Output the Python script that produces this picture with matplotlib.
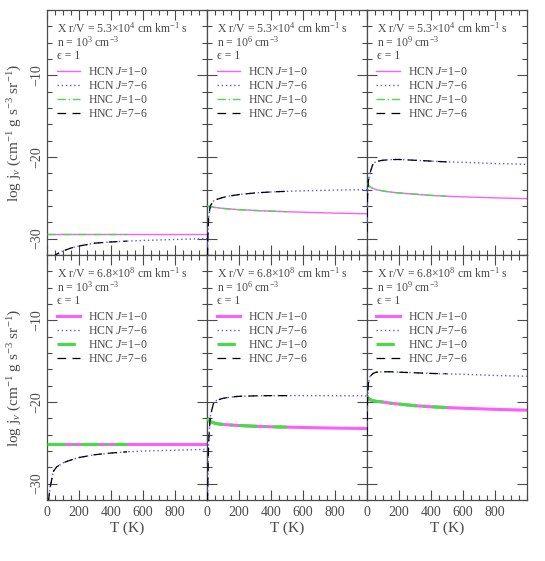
import matplotlib
matplotlib.use("Agg")
import matplotlib.pyplot as plt
from matplotlib.ticker import MultipleLocator

plt.rcParams['font.family'] = ['Liberation Serif', 'DejaVu Serif']
plt.rcParams['mathtext.fontset'] = 'custom'
plt.rcParams['mathtext.rm'] = 'Liberation Serif'
plt.rcParams['mathtext.it'] = 'Liberation Serif:italic'
plt.rcParams['axes.unicode_minus'] = True

GREY = '#4a4a4a'

# temperature grids (K)
T_hcn = [2, 5, 10, 20, 40, 60, 100, 150, 200, 300, 400, 500, 600, 800, 1000]
T_hnc = [2, 5, 10, 20, 40, 60, 100, 150, 200, 300, 400, 500]

# panel labels
xrv_labels = ['5.3×10$^{4}$', '5.3×10$^{4}$', '5.3×10$^{4}$',
              '6.8×10$^{8}$', '6.8×10$^{8}$', '6.8×10$^{8}$']
dens_labels = ['10$^{3}$', '10$^{6}$', '10$^{9}$',
               '10$^{3}$', '10$^{6}$', '10$^{9}$']

# log emissivity, one list per panel (top row then bottom row)
hcn10 = [
    [-29.4] * 15,
    [-26.0, -26.02, -26.05, -26.1, -26.15, -26.2, -26.3, -26.38, -26.45, -26.55, -26.63, -26.7, -26.76, -26.87, -26.95],
    [-23.2, -23.3, -23.45, -23.65, -23.85, -24.0, -24.15, -24.3, -24.4, -24.55, -24.7, -24.8, -24.88, -25.0, -25.1],
    [-25.2] * 15,
    [-22.0, -22.1, -22.2, -22.4, -22.55, -22.65, -22.75, -22.82, -22.88, -22.97, -23.03, -23.08, -23.12, -23.2, -23.25],
    [-19.3, -19.4, -19.55, -19.7, -19.85, -19.92, -20.0, -20.15, -20.25, -20.45, -20.58, -20.68, -20.76, -20.9, -21.0],
]
hcn76 = [
    [-36.0, -35.0, -34.0, -33.0, -32.2, -31.9, -31.5, -31.15, -30.9, -30.55, -30.4, -30.3, -30.22, -30.1, -30.0],
    [-34.0, -30.0, -27.5, -26.0, -25.4, -25.2, -24.95, -24.75, -24.6, -24.4, -24.28, -24.2, -24.14, -24.05, -24.0],
    [-29.2, -25.0, -23.0, -22.0, -20.8, -20.55, -20.4, -20.32, -20.3, -20.4, -20.5, -20.6, -20.65, -20.8, -20.9],
    [-34.0, -33.0, -32.0, -30.4, -28.5, -27.95, -27.45, -27.1, -26.8, -26.45, -26.25, -26.1, -26.0, -25.9, -25.8],
    [-34.0, -30.0, -25.0, -21.8, -20.2, -19.8, -19.55, -19.4, -19.3, -19.25, -19.22, -19.22, -19.22, -19.23, -19.25],
    [-24.1, -20.0, -17.8, -16.9, -16.5, -16.35, -16.3, -16.3, -16.35, -16.42, -16.5, -16.55, -16.6, -16.75, -16.85],
]
hnc10 = [
    [-29.4] * 12,
    [-26.0, -26.02, -26.05, -26.1, -26.15, -26.2, -26.3, -26.38, -26.45, -26.55, -26.63, -26.7],
    [-23.2, -23.3, -23.45, -23.65, -23.85, -24.0, -24.15, -24.3, -24.4, -24.55, -24.7, -24.8],
    [-25.2] * 12,
    [-22.0, -22.1, -22.2, -22.4, -22.55, -22.65, -22.75, -22.82, -22.88, -22.97, -23.03, -23.08],
    [-19.3, -19.4, -19.55, -19.7, -19.85, -19.92, -20.0, -20.15, -20.25, -20.45, -20.58, -20.68],
]
hnc76 = [
    [-36.0, -35.0, -34.0, -33.0, -32.2, -31.9, -31.5, -31.15, -30.9, -30.55, -30.4, -30.3],
    [-34.0, -30.0, -27.5, -26.0, -25.4, -25.2, -24.95, -24.75, -24.6, -24.4, -24.28, -24.2],
    [-29.2, -25.0, -23.0, -22.0, -20.8, -20.55, -20.4, -20.32, -20.3, -20.4, -20.5, -20.6],
    [-34.0, -33.0, -32.0, -30.4, -28.5, -27.95, -27.45, -27.1, -26.8, -26.45, -26.25, -26.1],
    [-34.0, -30.0, -25.0, -21.8, -20.2, -19.8, -19.55, -19.4, -19.3, -19.25, -19.22, -19.22],
    [-24.1, -20.0, -17.8, -16.9, -16.5, -16.35, -16.3, -16.3, -16.35, -16.42, -16.5, -16.55],
]

fig = plt.figure(figsize=(5.45, 5.61), dpi=100)

W, H = 545.0, 561.0
lefts = [47, 207, 366.7]
tops = [10, 255]
pw, ph = 160, 245

for i in range(6):
    row, col = divmod(i, 3)
    ax = fig.add_axes([lefts[col] / W, 1 - (tops[row] + ph) / H, pw / W, ph / H])
    thick = 1.0 if row == 0 else 2.2

    ax.plot(T_hcn, hcn10[i], color='#ff5cff', lw=thick, label='HCN $J$=1−0', zorder=2)
    ax.plot(T_hcn, hcn76[i], color='#5555ff', lw=1.0, ls=(0, (1, 2)), label='HCN $J$=7−6', zorder=3)
    ax.plot(T_hnc, hnc10[i], color='#44dd44', lw=thick, ls=(0, (6, 2, 1, 2)), label='HNC $J$=1−0', zorder=3)
    ax.plot(T_hnc, hnc76[i], color='black', lw=0.9, ls=(0, (7, 5)), label='HNC $J$=7−6', zorder=4)

    ax.set_xlim(0, 1000)
    ax.set_ylim(-32, -2)
    ax.xaxis.set_major_locator(MultipleLocator(200))
    ax.xaxis.set_minor_locator(MultipleLocator(50))
    ax.yaxis.set_major_locator(MultipleLocator(10))
    ax.yaxis.set_minor_locator(MultipleLocator(2))
    ax.tick_params(which='both', direction='in', top=True, right=True, colors=GREY,
                   labelsize=10, width=0.8)
    ax.tick_params(which='major', length=7)
    ax.tick_params(which='minor', length=3.5)
    ax.tick_params(axis='x', pad=4)
    ax.tick_params(axis='y', pad=3)
    for s in ax.spines.values():
        s.set_color(GREY)
        s.set_linewidth(0.9)

    ax.set_xticks([0, 200, 400, 600, 800])
    if row == 0:
        ax.set_xticklabels([])
    else:
        ax.set_xlabel('T (K)', fontsize=11, color=GREY, labelpad=2)
    if col == 0:
        ax.set_yticks([-10, -20, -30])
        for lab in ax.get_yticklabels():
            lab.set_rotation(90)
            lab.set_va('center')
        ax.set_ylabel(r'log j$_{\nu}$ (cm$^{-1}$ g s$^{-3}$ sr$^{-1}$)',
                      fontsize=11, color=GREY, labelpad=4)
    else:
        ax.set_yticklabels([])

    kw = dict(transform=ax.transAxes, fontsize=8.5, color=GREY, ha='left', va='center')
    ax.text(0.0625, 0.927, 'X r/V = ' + xrv_labels[i] + ' cm km$^{-1}$ s', **kw)
    ax.text(0.0625, 0.868, 'n = ' + dens_labels[i] + ' cm$^{-3}$', **kw)
    ax.text(0.0625, 0.812, 'ϵ = 1', **kw)

    leg = ax.legend(loc='upper left', bbox_to_anchor=(0.06, 0.772), frameon=False,
                    fontsize=8.5, handlelength=2.0, handletextpad=0.65,
                    labelspacing=0.18, borderpad=0, borderaxespad=0)
    for t in leg.get_texts():
        t.set_color(GREY)

fig.savefig('out.png', dpi=100)
